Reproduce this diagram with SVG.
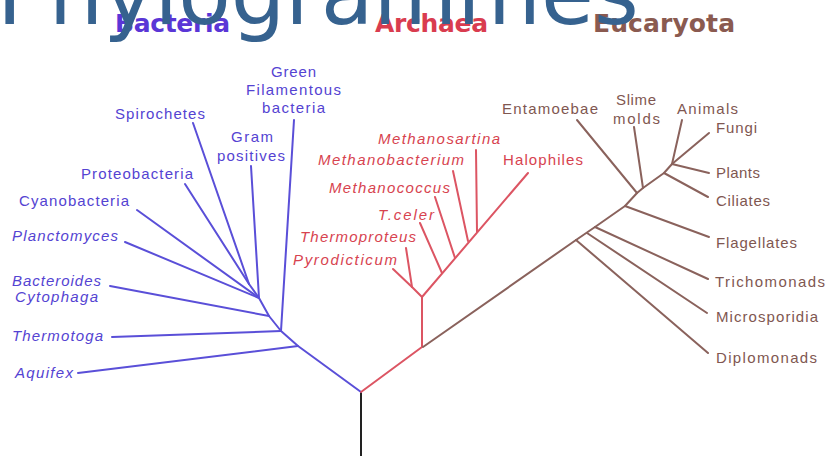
<svg xmlns="http://www.w3.org/2000/svg" width="828" height="456" viewBox="0 0 828 456">
  <style>
    .lbl { font-family: "Liberation Sans", Arial, sans-serif; font-size: 15px; }
    .it { font-style: italic; }
    .bac { fill: #5443d2; }
    .arc { fill: #d7434f; }
    .euk { fill: #7f5751; }
    .hdr { font-family: "DejaVu Sans", sans-serif; font-size: 25px; font-weight: bold; }
    .title { font-family: "DejaVu Sans", sans-serif; font-size: 86px; fill: #36628f; }
    .edge { fill: none; stroke-width: 2; stroke-linecap: round; stroke-linejoin: round; }
    .eb { stroke: #5a4fd8; }
    .ea { stroke: #dc5563; }
    .ee { stroke: #8a625c; }
    .er { stroke: #222222; }
  </style>

  <!-- domain headers -->
  <g id="hdr-bacteria"><text class="hdr" x="115" y="32" fill="#5a36d6" textLength="115">Bacteria</text></g>
  <g id="hdr-archaea"><text class="hdr" x="375" y="32" fill="#d93c4f" textLength="113">Archaea</text></g>
  <g id="hdr-eucaryota"><text class="hdr" x="593" y="32" fill="#8a5a50" textLength="142">Eucaryota</text></g>

  <!-- branches -->
  <g id="connectors">
    <path class="edge er" d="M361,392 L361,458"/>
    <!-- Bacteria -->
    <path class="edge eb" d="M361,392 L298,346 L281,331 L269,316 L259,298 L249,284"/>
    <path class="edge eb" d="M78,373 L298,346"/>
    <path class="edge eb" d="M112,337 L281,331"/>
    <path class="edge eb" d="M294,120 L281,331"/>
    <path class="edge eb" d="M110,286 L269,316"/>
    <path class="edge eb" d="M125,242 L259,298"/>
    <path class="edge eb" d="M137,210 L259,298"/>
    <path class="edge eb" d="M251,166 L259,298"/>
    <path class="edge eb" d="M185,184 L249,284"/>
    <path class="edge eb" d="M193,123 L249,284"/>
    <!-- Archaea -->
    <path class="edge ea" d="M361,392 L422,347 L422,297 L412,287"/>
    <path class="edge ea" d="M393,269 L412,287"/>
    <path class="edge ea" d="M406,248 L412,287"/>
    <path class="edge ea" d="M422,297 L528,173"/>
    <path class="edge ea" d="M420,223 L442,273"/>
    <path class="edge ea" d="M435,197 L455,258"/>
    <path class="edge ea" d="M453,171 L468,241"/>
    <path class="edge ea" d="M476,150 L477,232"/>
    <!-- Eucaryota -->
    <path class="edge ee" d="M423,347 L576,240 L595,227 L625,206 L637,193 L643,188 L664,173 L672,164"/>
    <path class="edge ee" d="M576,240 L708,353"/>
    <path class="edge ee" d="M587,233 L707,313"/>
    <path class="edge ee" d="M595,227 L708,279"/>
    <path class="edge ee" d="M625,206 L709,237"/>
    <path class="edge ee" d="M577,120 L637,193"/>
    <path class="edge ee" d="M634,127 L643,188"/>
    <path class="edge ee" d="M664,173 L708,197"/>
    <path class="edge ee" d="M682,120 L672,164"/>
    <path class="edge ee" d="M709,133 L672,164"/>
    <path class="edge ee" d="M709,173 L672,164"/>
  </g>

  <!-- Bacteria -->
  <g id="green-filamentous" class="lbl bac">
    <text x="271" y="77" textLength="45">Green</text>
    <text x="246" y="95" textLength="95">Filamentous</text>
    <text x="262" y="113" textLength="63">bacteria</text>
  </g>
  <g id="spirochetes" class="lbl bac"><text x="115" y="119" textLength="90">Spirochetes</text></g>
  <g id="gram-positives" class="lbl bac">
    <text x="231" y="142" textLength="42">Gram</text>
    <text x="217" y="161" textLength="68">positives</text>
  </g>
  <g id="proteobacteria" class="lbl bac"><text x="81" y="179" textLength="112">Proteobacteria</text></g>
  <g id="cyanobacteria" class="lbl bac"><text x="19" y="206" textLength="110">Cyanobacteria</text></g>
  <g id="planctomyces" class="lbl bac it"><text x="12" y="241" textLength="106">Planctomyces</text></g>
  <g id="bacteroides-cytophaga" class="lbl bac it">
    <text x="12" y="286" textLength="89">Bacteroides</text>
    <text x="15" y="302" textLength="83">Cytophaga</text>
  </g>
  <g id="thermotoga" class="lbl bac it"><text x="12" y="341" textLength="91">Thermotoga</text></g>
  <g id="aquifex" class="lbl bac it"><text x="15" y="378" textLength="58">Aquifex</text></g>

  <!-- Archaea -->
  <g id="methanosartina" class="lbl arc it"><text x="378" y="144" textLength="122">Methanosartina</text></g>
  <g id="methanobacterium" class="lbl arc it"><text x="318" y="165" textLength="146">Methanobacterium</text></g>
  <g id="methanococcus" class="lbl arc it"><text x="329" y="193" textLength="121">Methanococcus</text></g>
  <g id="t-celer" class="lbl arc it"><text x="378" y="220" textLength="56">T.celer</text></g>
  <g id="thermoproteus" class="lbl arc it"><text x="300" y="242" textLength="116">Thermoproteus</text></g>
  <g id="pyrodicticum" class="lbl arc it"><text x="293" y="265" textLength="104">Pyrodicticum</text></g>
  <g id="halophiles" class="lbl arc"><text x="503" y="165" textLength="80">Halophiles</text></g>

  <!-- Eucaryota -->
  <g id="entamoebae" class="lbl euk"><text x="502" y="114" textLength="96">Entamoebae</text></g>
  <g id="slime-molds" class="lbl euk">
    <text x="616" y="105" textLength="40">Slime</text>
    <text x="613" y="124" textLength="47">molds</text>
  </g>
  <g id="animals" class="lbl euk"><text x="677" y="114" textLength="61">Animals</text></g>
  <g id="fungi" class="lbl euk"><text x="716" y="133" textLength="41">Fungi</text></g>
  <g id="plants" class="lbl euk"><text x="716" y="178" textLength="44">Plants</text></g>
  <g id="ciliates" class="lbl euk"><text x="716" y="206" textLength="54">Ciliates</text></g>
  <g id="flagellates" class="lbl euk"><text x="716" y="248" textLength="81">Flagellates</text></g>
  <g id="trichomonads" class="lbl euk"><text x="715" y="287" textLength="110">Trichomonads</text></g>
  <g id="microsporidia" class="lbl euk"><text x="716" y="322" textLength="102">Microsporidia</text></g>
  <g id="diplomonads" class="lbl euk"><text x="716" y="363" textLength="101">Diplomonads</text></g>

  <!-- page title, drawn on top -->
  <text class="title" x="-3" y="24">Phylogrammes</text>
</svg>
